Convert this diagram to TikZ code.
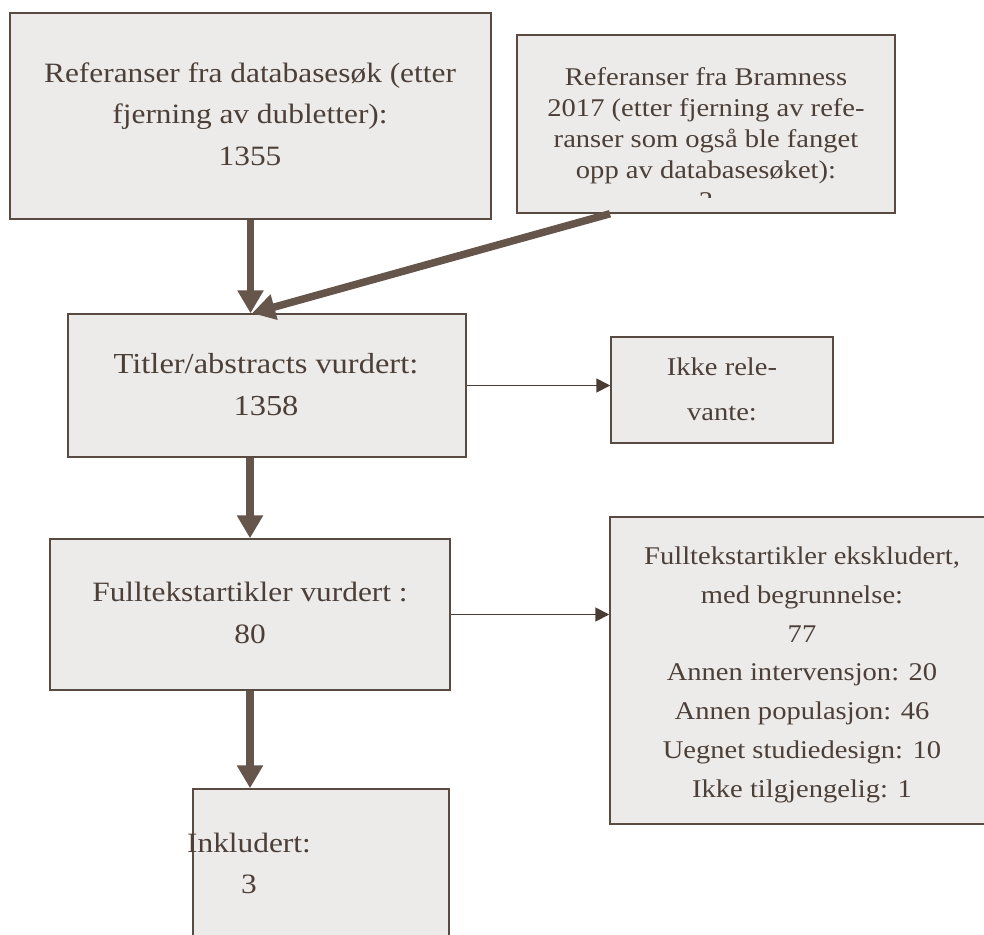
\documentclass[tikz,border=0pt]{standalone}
\usepackage{fontspec}
\setmainfont{Liberation Serif}[FakeStretch=1.12]
\usetikzlibrary{arrows.meta}

\definecolor{boxfill}{HTML}{EDEBE9}
\definecolor{boxline}{HTML}{594B42}
\definecolor{txtcol}{HTML}{4B3F38}
\definecolor{arrowcol}{HTML}{65554A}
\definecolor{thincol}{HTML}{4A3C33}

\begin{document}
\begin{tikzpicture}[x=1pt, y=-1pt,
	box/.style={draw=boxline, fill=boxfill, line width=1.5pt, inner sep=0pt},
	txt/.style={text=txtcol, align=center, anchor=base, inner sep=0pt},
	bigarrow/.style={draw=arrowcol, line width=7.5pt, -{Triangle[length=23pt, width=25pt]}},
	thinarrow/.style={draw=thincol, line width=1.8pt, -{Triangle[length=14pt, width=14pt]}}]
	\useasboundingbox (0, 0) rectangle (984, 934);
	\clip (0, 0) rectangle (984, 934); % page edge cuts the last boxes
	
	% Boxes
	\node[box, minimum width=481pt, minimum height=206pt] (dbsok) at (250.5, 116) {};
	\node[box, minimum width=378pt, minimum height=178pt] (bram) at (706, 124) {};
	\node[box, minimum width=398pt, minimum height=143pt] (titler) at (267, 385.5) {};
	\node[box, minimum width=222pt, minimum height=106pt] (ikke) at (722, 390) {};
	\node[box, minimum width=400pt, minimum height=151pt] (fullv) at (250, 614.5) {};
	\node[box, minimum width=390pt, minimum height=307pt] (ekskl) at (805, 670.5) {};
	\node[box, minimum width=256pt, minimum height=171pt] (inkl) at (321, 874.5) {};
	
	% Texts (placed at the baseline of their last line)
	\node[txt, font=\fontsize{28}{41.5}\selectfont] (tdbsok) at (250, 165)
		{Referanser fra databasesøk (etter\\ fjerning av dubletter):\\ 1355};
	\begin{scope}
		\clip (517, 35) rectangle (895, 197); % number cut off in the box
		\node[txt, font=\fontsize{25.5}{31}\selectfont] (tbram) at (706, 209)
			{Referanser fra Bramness\\ 2017 (etter fjerning av refe-\\ ranser som også ble fanget\\ opp av databasesøket):\\ 3};
	\end{scope}
	\node[txt, font=\fontsize{29}{42}\selectfont] (ttitler) at (266, 415)
		{Titler/abstracts vurdert:\\ 1358};
	\node[txt, font=\fontsize{25.5}{45}\selectfont] (tikke) at (722, 420)
		{Ikke rele-\\ vante:};
	\node[txt, font=\fontsize{28}{42}\selectfont] (tfullv) at (250, 643)
		{Fulltekstartikler vurdert :\\ 80};
	\node[txt, font=\fontsize{25.5}{38.7}\selectfont] (tekskl) at (802, 797)
		{Fulltekstartikler ekskludert,\\ med begrunnelse:\\ 77\\
		 Annen intervensjon: 20\\ Annen populasjon: 46\\ Uegnet studiedesign: 10\\ Ikke tilgjengelig: 1};
	\node[txt, font=\fontsize{28}{41}\selectfont] (tinkl) at (249, 893)
		{Inkludert:\\ 3};
	
	% Arrows
	\draw[bigarrow] (dbsok.south) -- (titler.north -| dbsok.south);
	\draw[bigarrow] ([xshift=-96pt]bram.south) -- ([xshift=-15pt]titler.north);
	\draw[bigarrow] (titler.south -| fullv.north) -- (fullv.north);
	\draw[bigarrow] (fullv.south) -- (fullv.south |- inkl.north);
	\draw[thinarrow] (titler.east) -- (titler.east -| ikke.west);
	\draw[thinarrow] (fullv.east) -- (fullv.east -| ekskl.west);
\end{tikzpicture}
\end{document}
